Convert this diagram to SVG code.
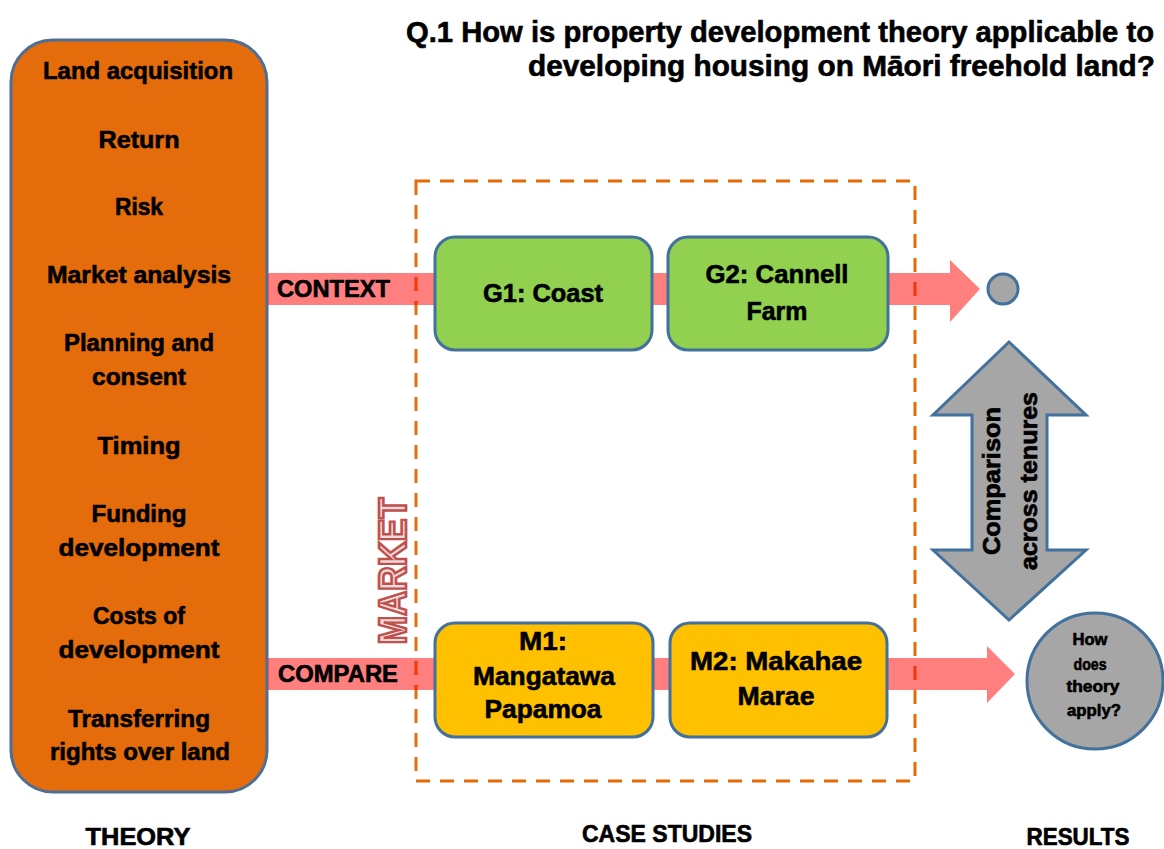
<svg xmlns="http://www.w3.org/2000/svg" width="1164" height="849" viewBox="0 0 1164 849">
<style>
.c{font-family:"Liberation Sans Narrow","Liberation Sans",Arial,sans-serif;font-weight:bold;fill:#000;stroke:#000;stroke-width:0.6}
.a{font-family:"Liberation Sans",Arial,sans-serif;font-weight:bold;fill:#000;stroke:#000;stroke-width:0.7}
.node{stroke:#41719C;stroke-width:3}
.g{fill:#92D050}
.y{fill:#FFC000}
.arrow{fill:#FF0000;fill-opacity:0.5}
</style>
<rect width="1164" height="849" fill="#fff"/>
<g id="title">
<text class="c" x="1154" y="42" font-size="29" text-anchor="end" textLength="748" lengthAdjust="spacingAndGlyphs">Q.1 How is property development theory applicable to</text>
<text class="c" x="1155" y="76" font-size="29" text-anchor="end" textLength="627" lengthAdjust="spacingAndGlyphs">developing housing on Māori freehold land?</text>
</g>
<g id="theory">
<rect x="11" y="40" width="256" height="752" rx="42" fill="#E46C0A" stroke="#4F6E96" stroke-width="3"/>
<g class="c" font-size="24" text-anchor="middle">
<text x="138" y="79" textLength="190" lengthAdjust="spacingAndGlyphs">Land acquisition</text>
<text x="139" y="148" textLength="81" lengthAdjust="spacingAndGlyphs">Return</text>
<text x="139" y="215" textLength="48" lengthAdjust="spacingAndGlyphs">Risk</text>
<text x="139" y="283" textLength="184" lengthAdjust="spacingAndGlyphs">Market analysis</text>
<text x="139" y="351" textLength="150" lengthAdjust="spacingAndGlyphs">Planning and</text>
<text x="139" y="385" textLength="94" lengthAdjust="spacingAndGlyphs">consent</text>
<text x="139" y="454" textLength="83" lengthAdjust="spacingAndGlyphs">Timing</text>
<text x="139" y="522" textLength="95" lengthAdjust="spacingAndGlyphs">Funding</text>
<text x="139" y="556" textLength="161" lengthAdjust="spacingAndGlyphs">development</text>
<text x="139" y="624" textLength="92" lengthAdjust="spacingAndGlyphs">Costs of</text>
<text x="139" y="658" textLength="161" lengthAdjust="spacingAndGlyphs">development</text>
<text x="139" y="727" textLength="142" lengthAdjust="spacingAndGlyphs">Transferring</text>
<text x="140" y="760" textLength="180" lengthAdjust="spacingAndGlyphs">rights over land</text>
</g>
</g>
<g id="case-studies-frame">
<rect x="416" y="181" width="499" height="600" fill="none" stroke="#E46C0A" stroke-width="3" stroke-dasharray="14 10"/>
<text transform="translate(406 571) rotate(-90)" font-family="Liberation Sans, Arial, sans-serif" font-weight="bold" font-size="38" text-anchor="middle" textLength="147" lengthAdjust="spacingAndGlyphs" fill="#F2DCDB" stroke="#C0504D" stroke-width="2.6">MARKET</text>
</g>
<g id="connectors">
<path class="arrow" d="M268 273 H950 V260 L980 289 L950 322 V305 H268 Z"/>
<path class="arrow" d="M268 658 H987 V646 L1015 674 L987 703 V690 H268 Z"/>
<path id="comparison-arrow" d="M1009 342 L1086 415 H1047 V550 H1086 L1009 620 L933 550 H972 V415 H933 Z" fill="#A6A6A6" stroke="#41719C" stroke-width="3" stroke-linejoin="miter"/>
</g>
<g id="labels">
<text class="c" x="277" y="297" font-size="23" textLength="113" lengthAdjust="spacingAndGlyphs">CONTEXT</text>
<text class="c" x="278" y="682" font-size="23" textLength="120" lengthAdjust="spacingAndGlyphs">COMPARE</text>
<text class="a" transform="translate(1000 481) rotate(-90)" font-size="24" text-anchor="middle" textLength="148" lengthAdjust="spacingAndGlyphs">Comparison</text>
<text class="a" transform="translate(1037 481) rotate(-90)" font-size="24" text-anchor="middle" textLength="178" lengthAdjust="spacingAndGlyphs">across tenures</text>
</g>
<g id="G1">
<rect class="node g" x="435" y="237" width="217" height="113" rx="20"/>
<text class="c" x="543" y="302" font-size="26" text-anchor="middle" textLength="120" lengthAdjust="spacingAndGlyphs">G1: Coast</text>
</g>
<g id="G2">
<rect class="node g" x="668" y="237" width="220" height="113" rx="20"/>
<text class="c" x="777" y="283" font-size="26" text-anchor="middle" textLength="143" lengthAdjust="spacingAndGlyphs">G2: Cannell</text>
<text class="c" x="777" y="320" font-size="26" text-anchor="middle" textLength="61" lengthAdjust="spacingAndGlyphs">Farm</text>
</g>
<g id="M1">
<rect class="node y" x="435" y="623" width="218" height="114" rx="20"/>
<text class="c" x="543" y="650" font-size="26" text-anchor="middle" textLength="48" lengthAdjust="spacingAndGlyphs">M1:</text>
<text class="c" x="544" y="685" font-size="26" text-anchor="middle" textLength="142" lengthAdjust="spacingAndGlyphs">Mangatawa</text>
<text class="c" x="543" y="718" font-size="26" text-anchor="middle" textLength="117" lengthAdjust="spacingAndGlyphs">Papamoa</text>
</g>
<g id="M2">
<rect class="node y" x="670" y="623" width="217" height="114" rx="20"/>
<text class="c" x="776" y="670" font-size="26" text-anchor="middle" textLength="172" lengthAdjust="spacingAndGlyphs">M2: Makahae</text>
<text class="c" x="776" y="705" font-size="26" text-anchor="middle" textLength="77" lengthAdjust="spacingAndGlyphs">Marae</text>
</g>
<g id="result-small">
<circle cx="1003" cy="289" r="15" fill="#A6A6A6" stroke="#41719C" stroke-width="3"/>
</g>
<g id="result">
<circle cx="1095" cy="681" r="68" fill="#A6A6A6" stroke="#41719C" stroke-width="3"/>
<g class="c" font-size="16" text-anchor="middle">
<text x="1090" y="645" textLength="35" lengthAdjust="spacingAndGlyphs">How</text>
<text x="1090" y="670" textLength="33" lengthAdjust="spacingAndGlyphs">does</text>
<text x="1093" y="692" textLength="53" lengthAdjust="spacingAndGlyphs">theory</text>
<text x="1094" y="716" textLength="54" lengthAdjust="spacingAndGlyphs">apply?</text>
</g>
</g>
<g id="footer" class="c" font-size="23" text-anchor="middle">
<text x="138" y="845" textLength="105" lengthAdjust="spacingAndGlyphs">THEORY</text>
<text x="667" y="842" textLength="170" lengthAdjust="spacingAndGlyphs">CASE STUDIES</text>
<text x="1078" y="845" textLength="103" lengthAdjust="spacingAndGlyphs">RESULTS</text>
</g>
</svg>
